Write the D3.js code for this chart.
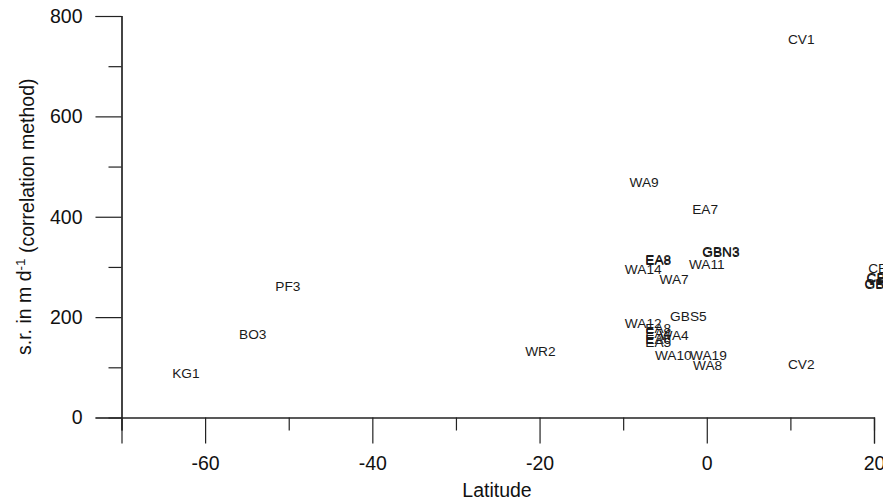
<!DOCTYPE html>
<html>
<head>
<meta charset="utf-8">
<script src="https://cdn.jsdelivr.net/npm/d3@7"></script>
<style>
  html, body { margin: 0; padding: 0; background: #fff; }
  svg { display: block; font-family: 'Liberation Sans', Arial, sans-serif; }
</style>
</head>
<body>
<svg id="chart"></svg>
<script>
// Site labels, latitude and s.r. value
const sites = ['KG1', 'BO3', 'PF3', 'WR2', 'WA9', 'WA14', 'WA12', 'EA8', 'EA8', 'GBN3', 'GBN3',
  'WA11', 'WA7', 'EA7', 'GBS5', 'EA8', 'EA4', 'WA4', 'EA6', 'EA5', 'WA10', 'WA19', 'WA8',
  'CV1', 'CV2', 'CE1', 'CB2', 'CB2', 'GB3', 'GB3'];
const latitude = [-62.3, -54.3, -50.1, -19.9, -7.5, -7.6, -7.6, -5.8, -5.8, 1.7, 1.7,
  0.0, -3.9, -0.2, -2.2, -5.8, -5.8, -3.9, -5.8, -5.8, -4.0, 0.2, 0.1,
  11.3, 11.3, 20.9, 20.7, 20.7, 20.5, 20.5];
const rate = [89, 167, 261, 132, 469, 296, 188, 313, 315, 329, 331,
  305, 275, 415, 203, 178, 168, 164, 157, 150, 125, 125, 104,
  755, 106, 297, 278, 279, 266, 267];

// Axis ticks
const xMajor = [-60, -40, -20, 0, 20];
const xMinor = [-70, -50, -30, -10, 10];
const yMajor = [0, 200, 400, 600, 800];
const yMinor = [100, 300, 500, 700];

const width = 883;
const height = 502;

const svg = d3.select('#chart').attr('width', width).attr('height', height);

const xScale = d3.scaleLinear().domain([-70, 20]).range([121.5, 874]);
const yScale = d3.scaleLinear().domain([0, 800]).range([417.5, 16]);

//Draw an axis with long labelled ticks and short unlabelled ones
function drawAxis(axisFn, scale, major, minor, transform) {
  const g = svg.append('g').attr('transform', transform);
  g.append('g')
    .call(axisFn(scale).tickValues(major).tickSize(26).tickPadding(13).tickFormat((d) => String(d)));
  g.append('g')
    .call(axisFn(scale).tickValues(minor).tickSize(13).tickFormat(''));
  g.selectAll('path, line').attr('stroke', '#222').attr('stroke-width', 1.2);
  g.selectAll('text')
    .attr('fill', '#111')
    .style('font-size', '19.5px')
    .style('font-family', "'Liberation Sans', Arial, sans-serif");
  return g;
}

drawAxis(d3.axisBottom, xScale, xMajor, xMinor, `translate(0, ${yScale(0)})`);
drawAxis(d3.axisLeft, yScale, yMajor, yMinor, `translate(${xScale(-70)}, 0)`);

//Axis titles
svg.append('text')
  .attr('x', 497)
  .attr('y', 497)
  .attr('text-anchor', 'middle')
  .attr('fill', '#111')
  .style('font-size', '19.5px')
  .text('Latitude');

const yTitle = svg.append('text')
  .attr('transform', `translate(31, ${(yScale(0) + yScale(800)) / 2}) rotate(-90)`)
  .attr('text-anchor', 'middle')
  .attr('fill', '#111')
  .style('font-size', '19.5px');
yTitle.append('tspan').text('s.r. in m d');
yTitle.append('tspan').attr('dy', '-0.45em').style('font-size', '13.5px').text('-1');
yTitle.append('tspan').attr('dy', '0.45em').text(' (correlation method)');

//Site labels placed at each point
const points = sites.map((s, i) => ({ site: s, lat: latitude[i], sr: rate[i] }));

svg.selectAll('.site-label')
  .data(points)
  .enter()
  .append('text')
  .attr('class', 'site-label')
  .attr('x', (d) => xScale(d.lat))
  .attr('y', (d) => yScale(d.sr))
  .attr('dy', '0.36em')
  .attr('text-anchor', 'middle')
  .attr('fill', '#1a1a1a')
  .style('font-size', '13.7px')
  .text((d) => d.site);
</script>
</body>
</html>
